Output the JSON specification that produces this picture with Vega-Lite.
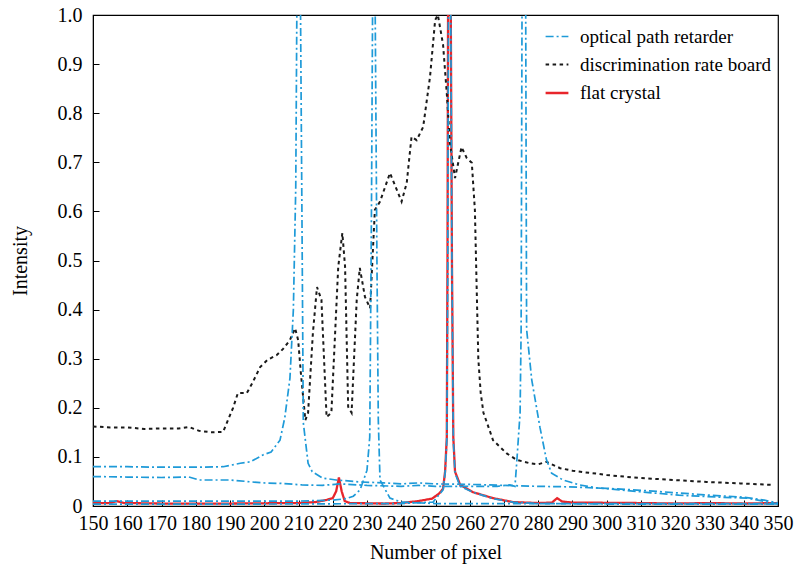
{
  "$schema": "https://vega.github.io/schema/vega-lite/v6.json",
  "width": 685,
  "height": 491,
  "autosize": "none",
  "padding": {"left": 93, "top": 15, "right": 16, "bottom": 60},
  "background": "white",
  "config": {
    "view": {"stroke": "#000", "strokeWidth": 1.2},
    "axis": {
      "domainColor": "#000", "tickColor": "#000", "labelColor": "#000", "titleColor": "#000",
      "labelFont": "Liberation Serif", "titleFont": "Liberation Serif",
      "labelFontSize": 20, "titleFontSize": 20, "titleFontWeight": "normal",
      "grid": false, "tickSize": -6
    },
    "legend": {"labelFont": "Liberation Serif", "labelFontSize": 19, "labelColor": "#000", "labelLimit": 0}
  },
  "data": {"values": [
    {"series":"flat crystal","curve":"r","pixel":150,"intensity":0.006},
    {"series":"flat crystal","curve":"r","pixel":155,"intensity":0.006},
    {"series":"flat crystal","curve":"r","pixel":157,"intensity":0.01},
    {"series":"flat crystal","curve":"r","pixel":159,"intensity":0.006},
    {"series":"flat crystal","curve":"r","pixel":170,"intensity":0.005},
    {"series":"flat crystal","curve":"r","pixel":190,"intensity":0.005},
    {"series":"flat crystal","curve":"r","pixel":210,"intensity":0.006},
    {"series":"flat crystal","curve":"r","pixel":215,"intensity":0.008},
    {"series":"flat crystal","curve":"r","pixel":218,"intensity":0.012},
    {"series":"flat crystal","curve":"r","pixel":220,"intensity":0.016},
    {"series":"flat crystal","curve":"r","pixel":221,"intensity":0.03},
    {"series":"flat crystal","curve":"r","pixel":221.8,"intensity":0.058},
    {"series":"flat crystal","curve":"r","pixel":222.6,"intensity":0.03},
    {"series":"flat crystal","curve":"r","pixel":223.5,"intensity":0.01},
    {"series":"flat crystal","curve":"r","pixel":225,"intensity":0.006},
    {"series":"flat crystal","curve":"r","pixel":235,"intensity":0.005},
    {"series":"flat crystal","curve":"r","pixel":240,"intensity":0.006},
    {"series":"flat crystal","curve":"r","pixel":245,"intensity":0.01},
    {"series":"flat crystal","curve":"r","pixel":249,"intensity":0.015},
    {"series":"flat crystal","curve":"r","pixel":251,"intensity":0.025},
    {"series":"flat crystal","curve":"r","pixel":252.2,"intensity":0.035},
    {"series":"flat crystal","curve":"r","pixel":252.8,"intensity":0.07},
    {"series":"flat crystal","curve":"r","pixel":253.3,"intensity":0.14},
    {"series":"flat crystal","curve":"r","pixel":253.5,"intensity":0.5},
    {"series":"flat crystal","curve":"r","pixel":253.7,"intensity":1.1},
    {"series":"flat crystal","curve":"r","pixel":254.4,"intensity":1.1},
    {"series":"flat crystal","curve":"r","pixel":254.8,"intensity":0.5},
    {"series":"flat crystal","curve":"r","pixel":255.2,"intensity":0.14},
    {"series":"flat crystal","curve":"r","pixel":255.7,"intensity":0.07},
    {"series":"flat crystal","curve":"r","pixel":257.2,"intensity":0.043},
    {"series":"flat crystal","curve":"r","pixel":261,"intensity":0.028},
    {"series":"flat crystal","curve":"r","pixel":266.8,"intensity":0.016},
    {"series":"flat crystal","curve":"r","pixel":272.6,"intensity":0.008},
    {"series":"flat crystal","curve":"r","pixel":280,"intensity":0.006},
    {"series":"flat crystal","curve":"r","pixel":284,"intensity":0.007},
    {"series":"flat crystal","curve":"r","pixel":285.5,"intensity":0.016},
    {"series":"flat crystal","curve":"r","pixel":287,"intensity":0.009},
    {"series":"flat crystal","curve":"r","pixel":290,"intensity":0.007},
    {"series":"flat crystal","curve":"r","pixel":310,"intensity":0.006},
    {"series":"flat crystal","curve":"r","pixel":320,"intensity":0.005},
    {"series":"flat crystal","curve":"r","pixel":330,"intensity":0.006},
    {"series":"flat crystal","curve":"r","pixel":340,"intensity":0.005},
    {"series":"flat crystal","curve":"r","pixel":350,"intensity":0.006},

    {"series":"discrimination rate board","curve":"k","pixel":150,"intensity":0.162},
    {"series":"discrimination rate board","curve":"k","pixel":155,"intensity":0.16},
    {"series":"discrimination rate board","curve":"k","pixel":160,"intensity":0.16},
    {"series":"discrimination rate board","curve":"k","pixel":165,"intensity":0.157},
    {"series":"discrimination rate board","curve":"k","pixel":170,"intensity":0.158},
    {"series":"discrimination rate board","curve":"k","pixel":175,"intensity":0.158},
    {"series":"discrimination rate board","curve":"k","pixel":178,"intensity":0.161},
    {"series":"discrimination rate board","curve":"k","pixel":181,"intensity":0.153},
    {"series":"discrimination rate board","curve":"k","pixel":185,"intensity":0.15},
    {"series":"discrimination rate board","curve":"k","pixel":188,"intensity":0.151},
    {"series":"discrimination rate board","curve":"k","pixel":190.9,"intensity":0.2},
    {"series":"discrimination rate board","curve":"k","pixel":192.3,"intensity":0.23},
    {"series":"discrimination rate board","curve":"k","pixel":194.9,"intensity":0.23},
    {"series":"discrimination rate board","curve":"k","pixel":196.5,"intensity":0.25},
    {"series":"discrimination rate board","curve":"k","pixel":198.8,"intensity":0.283},
    {"series":"discrimination rate board","curve":"k","pixel":201,"intensity":0.298},
    {"series":"discrimination rate board","curve":"k","pixel":203.6,"intensity":0.307},
    {"series":"discrimination rate board","curve":"k","pixel":205.5,"intensity":0.32},
    {"series":"discrimination rate board","curve":"k","pixel":207.5,"intensity":0.338},
    {"series":"discrimination rate board","curve":"k","pixel":209,"intensity":0.362},
    {"series":"discrimination rate board","curve":"k","pixel":209.9,"intensity":0.338},
    {"series":"discrimination rate board","curve":"k","pixel":210.7,"intensity":0.27},
    {"series":"discrimination rate board","curve":"k","pixel":212,"intensity":0.175},
    {"series":"discrimination rate board","curve":"k","pixel":212.8,"intensity":0.19},
    {"series":"discrimination rate board","curve":"k","pixel":214.2,"intensity":0.352},
    {"series":"discrimination rate board","curve":"k","pixel":215.4,"intensity":0.446},
    {"series":"discrimination rate board","curve":"k","pixel":216.7,"intensity":0.42},
    {"series":"discrimination rate board","curve":"k","pixel":218.2,"intensity":0.181},
    {"series":"discrimination rate board","curve":"k","pixel":219.6,"intensity":0.19},
    {"series":"discrimination rate board","curve":"k","pixel":221.6,"intensity":0.487},
    {"series":"discrimination rate board","curve":"k","pixel":222.8,"intensity":0.556},
    {"series":"discrimination rate board","curve":"k","pixel":223.6,"intensity":0.487},
    {"series":"discrimination rate board","curve":"k","pixel":224.5,"intensity":0.202},
    {"series":"discrimination rate board","curve":"k","pixel":225.5,"intensity":0.19},
    {"series":"discrimination rate board","curve":"k","pixel":227,"intensity":0.42},
    {"series":"discrimination rate board","curve":"k","pixel":227.9,"intensity":0.485},
    {"series":"discrimination rate board","curve":"k","pixel":229.4,"intensity":0.426},
    {"series":"discrimination rate board","curve":"k","pixel":230.9,"intensity":0.403},
    {"series":"discrimination rate board","curve":"k","pixel":232.3,"intensity":0.603},
    {"series":"discrimination rate board","curve":"k","pixel":233.8,"intensity":0.62},
    {"series":"discrimination rate board","curve":"k","pixel":236.7,"intensity":0.678},
    {"series":"discrimination rate board","curve":"k","pixel":240.1,"intensity":0.62},
    {"series":"discrimination rate board","curve":"k","pixel":241.6,"intensity":0.658},
    {"series":"discrimination rate board","curve":"k","pixel":243,"intensity":0.752},
    {"series":"discrimination rate board","curve":"k","pixel":244.5,"intensity":0.745},
    {"series":"discrimination rate board","curve":"k","pixel":246.4,"intensity":0.772},
    {"series":"discrimination rate board","curve":"k","pixel":248.4,"intensity":0.874},
    {"series":"discrimination rate board","curve":"k","pixel":249.9,"intensity":0.99},
    {"series":"discrimination rate board","curve":"k","pixel":250.7,"intensity":1.0},
    {"series":"discrimination rate board","curve":"k","pixel":252.2,"intensity":0.94},
    {"series":"discrimination rate board","curve":"k","pixel":253.3,"intensity":0.84},
    {"series":"discrimination rate board","curve":"k","pixel":254.2,"intensity":0.74},
    {"series":"discrimination rate board","curve":"k","pixel":255.7,"intensity":0.668},
    {"series":"discrimination rate board","curve":"k","pixel":257.6,"intensity":0.731},
    {"series":"discrimination rate board","curve":"k","pixel":259.1,"intensity":0.709},
    {"series":"discrimination rate board","curve":"k","pixel":260.6,"intensity":0.699},
    {"series":"discrimination rate board","curve":"k","pixel":261.5,"intensity":0.603},
    {"series":"discrimination rate board","curve":"k","pixel":262,"intensity":0.45},
    {"series":"discrimination rate board","curve":"k","pixel":262.5,"intensity":0.3},
    {"series":"discrimination rate board","curve":"k","pixel":263.2,"intensity":0.23},
    {"series":"discrimination rate board","curve":"k","pixel":264,"intensity":0.19},
    {"series":"discrimination rate board","curve":"k","pixel":266.8,"intensity":0.134},
    {"series":"discrimination rate board","curve":"k","pixel":270.8,"intensity":0.107},
    {"series":"discrimination rate board","curve":"k","pixel":273.7,"intensity":0.094},
    {"series":"discrimination rate board","curve":"k","pixel":277.6,"intensity":0.087},
    {"series":"discrimination rate board","curve":"k","pixel":280,"intensity":0.085},
    {"series":"discrimination rate board","curve":"k","pixel":282.4,"intensity":0.09},
    {"series":"discrimination rate board","curve":"k","pixel":286.4,"intensity":0.077},
    {"series":"discrimination rate board","curve":"k","pixel":290,"intensity":0.072},
    {"series":"discrimination rate board","curve":"k","pixel":293,"intensity":0.069},
    {"series":"discrimination rate board","curve":"k","pixel":297,"intensity":0.066},
    {"series":"discrimination rate board","curve":"k","pixel":300,"intensity":0.063},
    {"series":"discrimination rate board","curve":"k","pixel":309.7,"intensity":0.057},
    {"series":"discrimination rate board","curve":"k","pixel":319.5,"intensity":0.053},
    {"series":"discrimination rate board","curve":"k","pixel":329.2,"intensity":0.049},
    {"series":"discrimination rate board","curve":"k","pixel":339,"intensity":0.046},
    {"series":"discrimination rate board","curve":"k","pixel":348.5,"intensity":0.043},

    {"series":"optical path retarder","curve":"a","pixel":150,"intensity":0.08},
    {"series":"optical path retarder","curve":"a","pixel":160,"intensity":0.08},
    {"series":"optical path retarder","curve":"a","pixel":170,"intensity":0.079},
    {"series":"optical path retarder","curve":"a","pixel":180,"intensity":0.079},
    {"series":"optical path retarder","curve":"a","pixel":188,"intensity":0.08},
    {"series":"optical path retarder","curve":"a","pixel":193,"intensity":0.087},
    {"series":"optical path retarder","curve":"a","pixel":196,"intensity":0.09},
    {"series":"optical path retarder","curve":"a","pixel":199.6,"intensity":0.104},
    {"series":"optical path retarder","curve":"a","pixel":202,"intensity":0.11},
    {"series":"optical path retarder","curve":"a","pixel":204.6,"intensity":0.134},
    {"series":"optical path retarder","curve":"a","pixel":206,"intensity":0.18},
    {"series":"optical path retarder","curve":"a","pixel":207.5,"intensity":0.26},
    {"series":"optical path retarder","curve":"a","pixel":208.5,"intensity":0.4},
    {"series":"optical path retarder","curve":"a","pixel":209.2,"intensity":0.65},
    {"series":"optical path retarder","curve":"a","pixel":209.6,"intensity":1.1},
    {"series":"optical path retarder","curve":"a","pixel":210.5,"intensity":1.1},
    {"series":"optical path retarder","curve":"a","pixel":211,"intensity":0.6},
    {"series":"optical path retarder","curve":"a","pixel":211.4,"intensity":0.17},
    {"series":"optical path retarder","curve":"a","pixel":212.8,"intensity":0.087},
    {"series":"optical path retarder","curve":"a","pixel":214,"intensity":0.07},
    {"series":"optical path retarder","curve":"a","pixel":217,"intensity":0.057},
    {"series":"optical path retarder","curve":"a","pixel":221,"intensity":0.053},
    {"series":"optical path retarder","curve":"a","pixel":228,"intensity":0.049},
    {"series":"optical path retarder","curve":"a","pixel":235,"intensity":0.047},
    {"series":"optical path retarder","curve":"a","pixel":240,"intensity":0.045},
    {"series":"optical path retarder","curve":"a","pixel":245,"intensity":0.047},
    {"series":"optical path retarder","curve":"a","pixel":250,"intensity":0.045},
    {"series":"optical path retarder","curve":"a","pixel":260,"intensity":0.044},
    {"series":"optical path retarder","curve":"a","pixel":270,"intensity":0.042},
    {"series":"optical path retarder","curve":"a","pixel":280,"intensity":0.04},
    {"series":"optical path retarder","curve":"a","pixel":289,"intensity":0.039},
    {"series":"optical path retarder","curve":"a","pixel":300,"intensity":0.036},
    {"series":"optical path retarder","curve":"a","pixel":310,"intensity":0.032},
    {"series":"optical path retarder","curve":"a","pixel":320,"intensity":0.027},
    {"series":"optical path retarder","curve":"a","pixel":330,"intensity":0.022},
    {"series":"optical path retarder","curve":"a","pixel":340,"intensity":0.018},
    {"series":"optical path retarder","curve":"a","pixel":346,"intensity":0.012},
    {"series":"optical path retarder","curve":"a","pixel":350,"intensity":0.006},

    {"series":"optical path retarder","curve":"b","pixel":150,"intensity":0.06},
    {"series":"optical path retarder","curve":"b","pixel":160,"intensity":0.059},
    {"series":"optical path retarder","curve":"b","pixel":170,"intensity":0.058},
    {"series":"optical path retarder","curve":"b","pixel":178,"intensity":0.059},
    {"series":"optical path retarder","curve":"b","pixel":181,"intensity":0.053},
    {"series":"optical path retarder","curve":"b","pixel":190,"intensity":0.053},
    {"series":"optical path retarder","curve":"b","pixel":199.6,"intensity":0.047},
    {"series":"optical path retarder","curve":"b","pixel":205,"intensity":0.046},
    {"series":"optical path retarder","curve":"b","pixel":211,"intensity":0.043},
    {"series":"optical path retarder","curve":"b","pixel":217,"intensity":0.042},
    {"series":"optical path retarder","curve":"b","pixel":222,"intensity":0.045},
    {"series":"optical path retarder","curve":"b","pixel":230,"intensity":0.042},
    {"series":"optical path retarder","curve":"b","pixel":240,"intensity":0.04},
    {"series":"optical path retarder","curve":"b","pixel":245,"intensity":0.042},
    {"series":"optical path retarder","curve":"b","pixel":250,"intensity":0.04},
    {"series":"optical path retarder","curve":"b","pixel":260,"intensity":0.04},
    {"series":"optical path retarder","curve":"b","pixel":268,"intensity":0.04},
    {"series":"optical path retarder","curve":"b","pixel":271.7,"intensity":0.043},
    {"series":"optical path retarder","curve":"b","pixel":273.2,"intensity":0.04},
    {"series":"optical path retarder","curve":"b","pixel":273.7,"intensity":0.087},
    {"series":"optical path retarder","curve":"b","pixel":274.7,"intensity":0.19},
    {"series":"optical path retarder","curve":"b","pixel":275,"intensity":0.36},
    {"series":"optical path retarder","curve":"b","pixel":275.3,"intensity":1.1},
    {"series":"optical path retarder","curve":"b","pixel":276.3,"intensity":1.1},
    {"series":"optical path retarder","curve":"b","pixel":276.6,"intensity":0.36},
    {"series":"optical path retarder","curve":"b","pixel":278.1,"intensity":0.257},
    {"series":"optical path retarder","curve":"b","pixel":280.5,"intensity":0.16},
    {"series":"optical path retarder","curve":"b","pixel":282.4,"intensity":0.094},
    {"series":"optical path retarder","curve":"b","pixel":283.9,"intensity":0.067},
    {"series":"optical path retarder","curve":"b","pixel":287.2,"intensity":0.053},
    {"series":"optical path retarder","curve":"b","pixel":292,"intensity":0.043},
    {"series":"optical path retarder","curve":"b","pixel":297,"intensity":0.037},
    {"series":"optical path retarder","curve":"b","pixel":309.7,"intensity":0.029},
    {"series":"optical path retarder","curve":"b","pixel":321,"intensity":0.022},
    {"series":"optical path retarder","curve":"b","pixel":333,"intensity":0.018},
    {"series":"optical path retarder","curve":"b","pixel":341,"intensity":0.016},
    {"series":"optical path retarder","curve":"b","pixel":348.5,"intensity":0.006},
    {"series":"optical path retarder","curve":"b","pixel":350,"intensity":0.004},

    {"series":"optical path retarder","curve":"c","pixel":150,"intensity":0.01},
    {"series":"optical path retarder","curve":"c","pixel":180,"intensity":0.01},
    {"series":"optical path retarder","curve":"c","pixel":210,"intensity":0.01},
    {"series":"optical path retarder","curve":"c","pixel":220,"intensity":0.012},
    {"series":"optical path retarder","curve":"c","pixel":224,"intensity":0.015},
    {"series":"optical path retarder","curve":"c","pixel":226,"intensity":0.02},
    {"series":"optical path retarder","curve":"c","pixel":228,"intensity":0.033},
    {"series":"optical path retarder","curve":"c","pixel":230,"intensity":0.073},
    {"series":"optical path retarder","curve":"c","pixel":230.8,"intensity":0.14},
    {"series":"optical path retarder","curve":"c","pixel":231.3,"intensity":0.6},
    {"series":"optical path retarder","curve":"c","pixel":231.7,"intensity":1.1},
    {"series":"optical path retarder","curve":"c","pixel":232.3,"intensity":1.1},
    {"series":"optical path retarder","curve":"c","pixel":232.9,"intensity":0.5},
    {"series":"optical path retarder","curve":"c","pixel":233.3,"intensity":0.175},
    {"series":"optical path retarder","curve":"c","pixel":233.8,"intensity":0.053},
    {"series":"optical path retarder","curve":"c","pixel":236.7,"intensity":0.016},
    {"series":"optical path retarder","curve":"c","pixel":240,"intensity":0.008},
    {"series":"optical path retarder","curve":"c","pixel":250,"intensity":0.005},
    {"series":"optical path retarder","curve":"c","pixel":300,"intensity":0.005},
    {"series":"optical path retarder","curve":"c","pixel":350,"intensity":0.005},

    {"series":"optical path retarder","curve":"d","pixel":150,"intensity":0.004},
    {"series":"optical path retarder","curve":"d","pixel":200,"intensity":0.004},
    {"series":"optical path retarder","curve":"d","pixel":240,"intensity":0.005},
    {"series":"optical path retarder","curve":"d","pixel":249.3,"intensity":0.008},
    {"series":"optical path retarder","curve":"d","pixel":252.2,"intensity":0.033},
    {"series":"optical path retarder","curve":"d","pixel":252.8,"intensity":0.067},
    {"series":"optical path retarder","curve":"d","pixel":253.3,"intensity":0.134},
    {"series":"optical path retarder","curve":"d","pixel":253.6,"intensity":0.5},
    {"series":"optical path retarder","curve":"d","pixel":253.8,"intensity":1.1},
    {"series":"optical path retarder","curve":"d","pixel":254.4,"intensity":1.1},
    {"series":"optical path retarder","curve":"d","pixel":254.8,"intensity":0.5},
    {"series":"optical path retarder","curve":"d","pixel":255.2,"intensity":0.134},
    {"series":"optical path retarder","curve":"d","pixel":255.7,"intensity":0.067},
    {"series":"optical path retarder","curve":"d","pixel":257.2,"intensity":0.04},
    {"series":"optical path retarder","curve":"d","pixel":261,"intensity":0.028},
    {"series":"optical path retarder","curve":"d","pixel":266.8,"intensity":0.015},
    {"series":"optical path retarder","curve":"d","pixel":272.6,"intensity":0.008},
    {"series":"optical path retarder","curve":"d","pixel":280,"intensity":0.005},
    {"series":"optical path retarder","curve":"d","pixel":300,"intensity":0.004},
    {"series":"optical path retarder","curve":"d","pixel":350,"intensity":0.004}
  ]},
  "encoding": {
    "x": {"field": "pixel", "type": "quantitative",
      "scale": {"domain": [150, 350], "nice": false, "zero": false},
      "axis": {"title": "Number of pixel", "values": [150,160,170,180,190,200,210,220,230,240,250,260,270,280,290,300,310,320,330,340,350], "labelOverlap": false, "labelFlush": false, "labelPadding": 13, "titlePadding": 9}},
    "y": {"field": "intensity", "type": "quantitative",
      "scale": {"domain": [0, 1], "nice": false},
      "axis": {"title": "Intensity", "values": [0,0.1,0.2,0.3,0.4,0.5,0.6,0.7,0.8,0.9,1.0], "labelExpr": "datum.value == 0 ? '0' : format(datum.value, '.1f')", "labelFlush": false, "labelPadding": 17, "titlePadding": 27}},
    "color": {"field": "series", "type": "nominal",
      "scale": {"domain": ["optical path retarder", "discrimination rate board", "flat crystal"], "range": ["#1e9ad8", "#1a1a1a", "#e8252b"]},
      "legend": {"title": null, "orient": "none", "legendX": 451, "legendY": 9, "symbolType": "stroke", "symbolSize": 520, "symbolStrokeWidth": 2.2, "rowPadding": 5, "labelOffset": 10}},
    "strokeDash": {"field": "series", "type": "nominal",
      "scale": {"domain": ["optical path retarder", "discrimination rate board", "flat crystal"], "range": [[8,3,2,3], [3.5,3.5], [1,0]]},
      "legend": {"title": null, "orient": "none", "legendX": 451, "legendY": 9, "symbolType": "stroke", "symbolSize": 520, "rowPadding": 5, "labelOffset": 10}},
    "strokeWidth": {"field": "series", "type": "nominal",
      "scale": {"domain": ["optical path retarder", "discrimination rate board", "flat crystal"], "range": [1.7, 2.3, 4]},
      "legend": {"title": null, "orient": "none", "legendX": 451, "legendY": 9, "symbolType": "stroke", "symbolSize": 520, "rowPadding": 5, "labelOffset": 10}},
    "detail": {"field": "curve", "type": "nominal"}
  },
  "layer": [
    {"transform": [{"filter": "datum.series == 'flat crystal'"}], "mark": {"type": "line", "clip": true}},
    {"transform": [{"filter": "datum.series == 'discrimination rate board'"}], "mark": {"type": "line", "clip": true}},
    {"transform": [{"filter": "datum.series == 'optical path retarder'"}], "mark": {"type": "line", "clip": true}}
  ]
}
